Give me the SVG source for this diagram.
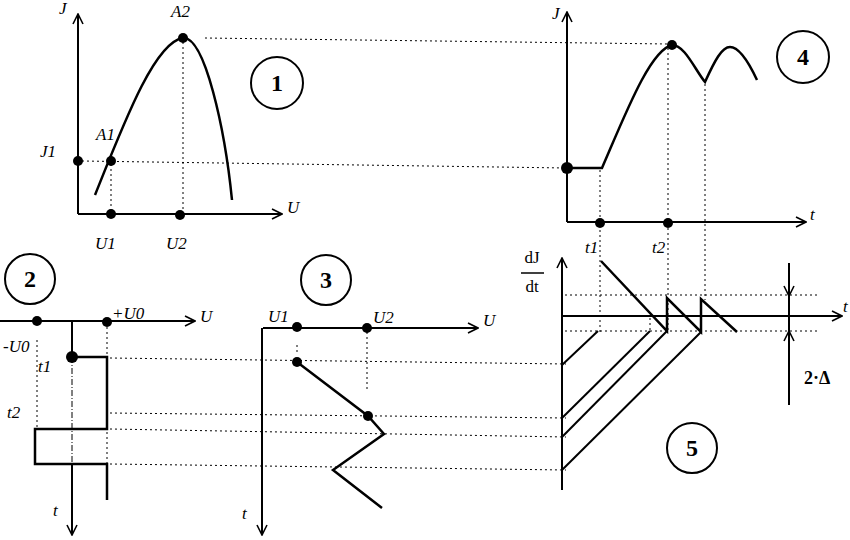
<svg xmlns="http://www.w3.org/2000/svg" width="850" height="540" viewBox="0 0 850 540">
<style>
.ax{stroke:#000;stroke-width:2;fill:none}
.th{stroke:#000;stroke-width:2.5;fill:none}
.dt{stroke:#000;stroke-width:1;stroke-dasharray:2 3;fill:none}
.dd{stroke:#000;stroke-width:1;stroke-dasharray:6 2 1 2;fill:none}
.lb{font-family:"Liberation Serif",serif;font-style:italic;font-size:17px;fill:#000}
.nm{font-family:"Liberation Serif",serif;font-size:24px;font-weight:bold;fill:#000;text-anchor:middle}
.cr{stroke:#000;stroke-width:2;fill:#fff}
.pt{fill:#000}
</style>
<defs>
<marker id="ar" viewBox="0 0 12 12" refX="11" refY="6" markerWidth="12" markerHeight="12" markerUnits="userSpaceOnUse" orient="auto">
<path d="M1,1 L11,6 L1,11" stroke="#000" stroke-width="1.6" fill="none"/>
</marker>
</defs>
<rect width="850" height="540" fill="#fff"/>

<g id="connectors">
<path class="dt" d="M205,38 L668,44"/>
<path class="dt" d="M82,161 L566,168"/>
<path class="dt" d="M111,164 V214"/>
<path class="dt" d="M183,42 V214"/>
<path class="dt" d="M600,170 V332"/>
<path class="dt" d="M668,48 V332"/>
<path class="dt" d="M705,84 V300"/>
<path class="dt" d="M650,318 V332"/>
<path class="dt" d="M110,358 L566,364"/>
<path class="dt" d="M110,413 L566,418"/>
<path class="dt" d="M110,429 L566,437"/>
<path class="dt" d="M110,464 L566,470"/>
<path class="dt" d="M37,340 V429"/>
<path class="dt" d="M107,327 V357"/>
<path class="dt" d="M107,432 V464"/>
<path class="dt" d="M367,332 V390"/>
<path class="dt" d="M297,345 V352"/>
<path class="dt" d="M565,295 H820"/>
<path class="dt" d="M565,331 H820"/>
</g>

<g id="panel1">
<path class="ax" d="M78,214 V14" marker-end="url(#ar)"/>
<path class="ax" d="M78,214 H282" marker-end="url(#ar)"/>
<path class="th" d="M95,195 C125,120 155,42 183,38 C205,36 225,130 232,200"/>
<circle class="pt" cx="183" cy="38" r="5"/>
<circle class="pt" cx="111" cy="161" r="5"/>
<circle class="pt" cx="78" cy="161" r="5"/>
<circle class="pt" cx="111" cy="214" r="5"/>
<circle class="pt" cx="180" cy="215" r="5"/>
<text class="lb" x="59" y="14">J</text>
<text class="lb" x="171" y="17">A2</text>
<text class="lb" x="96" y="140">A1</text>
<text class="lb" x="40" y="157">J1</text>
<text class="lb" x="287" y="213">U</text>
<text class="lb" x="95" y="249">U1</text>
<text class="lb" x="166" y="249">U2</text>
</g>
<g id="node1"><circle class="cr" cx="277" cy="83" r="26"/><text class="nm" x="277" y="91">1</text></g>

<g id="panel4">
<path class="ax" d="M567,222 V12" marker-end="url(#ar)"/>
<path class="ax" d="M567,222 H806" marker-end="url(#ar)"/>
<path class="th" d="M567,168 L602,168 C625,115 650,50 672,45 C685,45 695,70 705,82 C715,60 722,47 730,47 C740,47 750,65 757,80"/>
<circle class="pt" cx="567" cy="168" r="6"/>
<circle class="pt" cx="672" cy="45" r="5"/>
<circle class="pt" cx="600" cy="223" r="5"/>
<circle class="pt" cx="668" cy="223" r="5"/>
<text class="lb" x="552" y="19">J</text>
<text class="lb" x="810" y="220">t</text>
</g>
<g id="node4"><circle class="cr" cx="803" cy="57" r="26"/><text class="nm" x="803" y="65">4</text></g>

<g id="panel2">
<path class="ax" d="M0,321 H195" marker-end="url(#ar)"/>
<path class="ax" d="M72,321 V356"/>
<path class="dd" d="M72,357 V464"/>
<path class="ax" d="M72,464 V535" marker-end="url(#ar)"/>
<path class="th" d="M72,357 H107 V429 H35 V464 H107 V500"/>
<circle class="pt" cx="37" cy="321" r="5"/>
<circle class="pt" cx="107" cy="322" r="5"/>
<circle class="pt" cx="72" cy="357" r="6"/>
<text class="lb" x="200" y="322">U</text>
<text class="lb" x="112" y="319">+U0</text>
<text class="lb" x="3" y="352">-U0</text>
<text class="lb" x="38" y="372">t1</text>
<text class="lb" x="7" y="418">t2</text>
<text class="lb" x="53" y="516">t</text>
</g>
<g id="node2"><circle class="cr" cx="30" cy="279" r="25"/><text class="nm" x="30" y="287">2</text></g>

<g id="panel3">
<path class="ax" d="M263,328 H478" marker-end="url(#ar)"/>
<path class="ax" d="M262,328 V535" marker-end="url(#ar)"/>
<path class="th" d="M297,362 L368,416 L384,434 L333,470 L382,508"/>
<circle class="pt" cx="297" cy="327" r="5"/>
<circle class="pt" cx="367" cy="328" r="5"/>
<circle class="pt" cx="297" cy="362" r="5"/>
<circle class="pt" cx="368" cy="416" r="5"/>
<text class="lb" x="268" y="322">U1</text>
<text class="lb" x="373" y="323">U2</text>
<text class="lb" x="483" y="326">U</text>
<text class="lb" x="242" y="519">t</text>
</g>
<g id="node3"><circle class="cr" cx="326" cy="280" r="25"/><text class="nm" x="326" y="288">3</text></g>

<g id="panel5">
<path class="ax" d="M562,490 V258" marker-end="url(#ar)"/>
<path class="ax" d="M562,316 H842" marker-end="url(#ar)"/>
<path class="th" d="M601,261 L667,331 V298 L701,332 V299 L737,332"/>
<path class="ax" d="M562,365 L598,331"/>
<path class="ax" d="M562,418 L650,331"/>
<path class="ax" d="M562,437 L667,331"/>
<path class="ax" d="M562,470 L701,332"/>
<path class="ax" d="M789,263 V296" marker-end="url(#ar)"/>
<path class="ax" d="M789,405 V331" marker-end="url(#ar)"/>
<path class="ax" d="M789,296 V331"/>
<text x="532" y="263" style="font-family:'Liberation Serif',serif;font-size:17px" text-anchor="middle">dJ</text>
<path d="M521,273 H544" stroke="#000" stroke-width="1.5"/>
<text x="532" y="292" style="font-family:'Liberation Serif',serif;font-size:17px" text-anchor="middle">dt</text>
<text class="lb" x="585" y="253">t1</text>
<text class="lb" x="652" y="253">t2</text>
<text class="lb" x="843" y="312">t</text>
<text x="804" y="384" style="font-family:'Liberation Serif',serif;font-size:18px;font-weight:bold">2·Δ</text>
</g>
<g id="node5"><circle class="cr" cx="692" cy="448" r="25"/><text class="nm" x="692" y="456">5</text></g>
</svg>
